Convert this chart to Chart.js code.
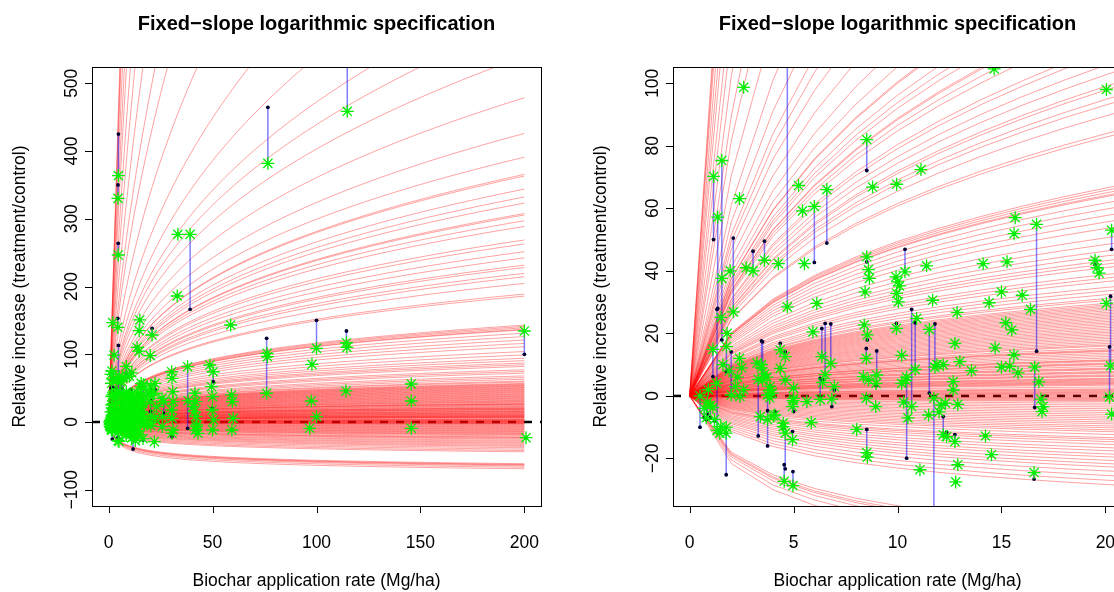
<!DOCTYPE html>
<html>
<head>
<meta charset="utf-8">
<script src="https://cdn.jsdelivr.net/npm/chart.js@4.4.1/dist/chart.umd.min.js"></script>
<style>
  html, body { margin: 0; padding: 0; background: #fff; overflow: hidden; }
  #wrap { position: relative; width: 1114px; height: 592px; overflow: hidden; background: #fff; }
  canvas { position: absolute; top: 0; }
  #left { left: 0; }
  #right { left: 581px; }
</style>
</head>
<body>
<div id="wrap">
  <canvas id="left" width="581" height="592"></canvas>
  <canvas id="right" width="581" height="592"></canvas>
</div>
<script>
// study-level exponents b of  increase = 100 * ((1 + rate)^b - 1)
const curveSlopes = [
  0.99, 0.97, 0.946, 0.90, 0.852, 0.81, 0.75, 0.70, 0.64, 0.581,
  0.542, 0.485, 0.433, 0.402, 0.378, 0.365, 0.35, 0.331, 0.313, 0.300,
  0.290, 0.289, 0.281, 0.276, 0.272, 0.265, 0.264, 0.260, 0.256, 0.246,
  0.243, 0.237, 0.232, 0.226, 0.224, 0.219, 0.216, 0.210, 0.200, 0.198,
  0.1674, 0.1659, 0.1643, 0.1627, 0.1619, 0.1579, 0.1538, 0.1495, 0.1452, 0.1408,
  0.1344, 0.1297, 0.125, 0.1215, 0.118, 0.1155, 0.1129, 0.1077, 0.105, 0.1023,
  0.0978, 0.095, 0.0921, 0.089, 0.0874, 0.0851, 0.0838, 0.0826, 0.0814, 0.0802,
  0.079, 0.0777, 0.0765, 0.0752, 0.0739, 0.0727, 0.0714, 0.0701, 0.0688, 0.0675,
  0.0661, 0.0648, 0.0634, 0.062, 0.0607, 0.0594, 0.058, 0.0566, 0.0552, 0.0538,
  0.0523, 0.0509, 0.0495, 0.0485, 0.0466, 0.0451, 0.0443, 0.0436, 0.0421, 0.0406,
  0.039, 0.0375, 0.0359, 0.0352, 0.0344, 0.0328, 0.032, 0.0312, 0.0296, 0.028,
  0.0272, 0.0264, 0.0247, 0.0238, 0.023, 0.0214, 0.0205, 0.0197, 0.018, 0.0172,
  0.0163, 0.0154, 0.0145, 0.0137, 0.0128, 0.012, 0.011, 0.0092, 0.0074, 0.0065,
  0.0056, 0.0046, 0.0037, 0.0028, 0.0019, 0.001, 0, -0.001, -0.0019, -0.0028,
  -0.0038, -0.0048, -0.0058, -0.0077, -0.0097, -0.0117, -0.0137, -0.0157, -0.0178, -0.0199,
  -0.022, -0.0241, -0.0263, -0.0285, -0.0306, -0.033, -0.0351, -0.0375, -0.0397, -0.043,
  -0.0469, -0.049, -0.0517, -0.055, -0.0593, -0.063, -0.0673, -0.071, -0.0755, -0.08,
  -0.0842, -0.09, -0.0963, -0.103, -0.1093, -0.1803, -0.1861, -0.19, -0.1969, -0.2079,
  -0.2212
];

// observations: application rate (Mg/ha), observed and fitted relative increase
const rate = [
  4.7, 4.5, 4.6, 4.4, 2.0, 15.0, 14.7, 13.7, 20.9, 33.3,
  39.2, 33.0, 58.7, 76.6, 76.0, 76.2, 76.4, 100.0, 97.8, 97.5,
  100.0, 96.7, 114.4, 114.6, 114.8, 114.2, 145.6, 145.6, 145.6, 200,
  200.8, 30.3, 30.5, 30.8, 31.1, 30.3, 30.6, 31.0, 30.5, 38.0,
  38.2, 41.5, 42.0, 41.2, 42.0, 42.5, 41.8, 43.0, 48.7, 50.3,
  49.5, 50.0, 49.8, 50.5, 50.0, 59.1, 59.5, 59.9, 59.3, 22.3,
  22.0, 23.1, 22.3, 22.0, 25.7, 26.5, 26.0, 25.8, 40.6, 42.2,
  1.15, 1.35, 1.55, 2.1, 2.6, 1.55, 1.95, 2.4, 2.72, 3.05,
  3.6, 4.27, 5.24, 5.43, 6.0, 6.6, 5.52, 8.52, 8.8, 9.96,
  4.7, 8.52, 8.6, 8.65, 9.93, 10.0, 14.65, 20.05, 11.13, 15.66,
  15.61, 16.69, 10.36, 11.4, 14.12, 15.27, 19.5, 19.6, 19.7, 20.3,
  10.1, 1.32, 1.51, 1.12, 1.77, 2.0, 1.76, 0.5, 0.7, 0.85,
  1.0, 1.12, 1.5, 1.45, 1.75, 3.51, 3.3, 3.24, 3.45, 3.6,
  3.72, 3.4, 3.75, 4.03, 3.75, 3.88, 3.85, 4.36, 4.6, 4.36,
  4.6, 5.0, 4.95, 4.55, 4.97, 4.95, 4.5, 4.6, 4.5, 5.0,
  5.64, 5.85, 6.28, 6.96, 6.84, 5.93, 6.12, 6.36, 6.52, 6.79,
  6.4, 8.04, 8.52, 8.55, 8.44, 8.4, 8.55, 8.5, 9.0, 8.6,
  8.36, 8.97, 8.5, 8.95, 9.96, 10.04, 9.95, 10.2, 10.68, 10.92,
  10.85, 10.2, 10.4, 10.3, 10.5, 10.44, 11.08, 11.53, 11.5, 11.75,
  11.8, 11.69, 12.76, 13.0, 13.56, 12.2, 11.9, 12.68, 12.68, 12.1,
  12.3, 12.9, 12.0, 12.2, 12.36, 12.76, 12.9, 12.8, 12.87, 14.41,
  15.0, 16.0, 16.4, 15.21, 15.5, 14.7, 15.6, 15.4, 15.0, 15.8,
  14.23, 14.52, 16.6, 16.8, 16.9, 17.0, 16.95, 16.57, 20.05, 20.25,
  20.2, 20.3, 2.42, 0.8, 1.2, 3.46, 3.86, 3.97, 4.1, 4.98,
  2.3, 2.2, 1.9, 1.6, 1.3, 0.9, 2.6, 2.5, 1.8, 2.4
];
const observed = [
  363.6, 330, 246.5, 139.8, 146.6, 150.6, 134.8, 110, 128.4, 277,
  277, 186, 143.2, 381.8, 42.4, 101.4, 96.4, 108.7, 85.1, 31,
  7.8, -9.3, 117, 110.2, 458.6, 45.8, 56.1, 31, -9.3, 134.3,
  -23.2, 74.2, 64.5, 44.7, 30, 17.7, 5.4, -11.8, -16.7, 81.6,
  31.4, 42.4, 30, 15.2, 7.8, -4.4, -11.8, -16.7, 84.1, 74.2,
  52.1, 37.3, 17.7, 3, -11.8, 39.9, 30, 5.4, -11.8, 57.1,
  42.4, 22.6, 5.4, -29, 35, 30, 7.8, -6.9, 22.6, -6.9,
  70.2, 57.2, 75.3, 26.9, 98.7, 37.6, 40, 63.1, 41, 40,
  43.4, 42.3, 67.3, 59.2, 60.6, 66, 42.3, 82, 66.8, 67.7,
  28.5, 44.5, 40.4, 37.6, 38.1, 36.5, 104.6, 98, 72.4, 57,
  51.9, 54.9, 39.7, 41.6, 42.3, 42.9, 43.4, 41, 39.3, 53,
  35.2, -11, 25.1, 14.9, 15.8, 0.3, -10, 0, -4, -2,
  -3, -3.7, -9.8, -11.9, -11.9, 5, 5.3, 10.5, 9, 7,
  6, -6.6, -7.6, -6.4, 0.3, 1.9, -0.6, 14.7, 12.6, 8.8,
  5.1, 2.5, -3.4, -27.3, -28.7, -14, -9.8, -11.9, -8.7, -0.8,
  -1.8, -8.5, -1.1, 3, -1, 20.5, 29.6, 12.6, 6.8, 10.4,
  4.3, -10.7, -18.1, -19.6, 33.3, 22.7, 19.5, 12, 6.7, 5.1,
  6.2, 4, -0.7, -3.4, 32.8, 30.1, 21.6, 4, -3.4, 24.8,
  8.5, 13, 5, -2, -7, 6, -23.6, 21.3, -6.1, -0.7,
  9.2, 30.6, 16.8, 11, 8.1, 10, 10, 4.6, 1.9, -2.9,
  -2.3, -2.7, -5.1, -12.4, -13, -14.6, -22, -27.5, 26.7, 29.8,
  33.3, 32.2, 27.7, 23.4, 21.1, 15.4, 13.1, 9.5, 9.2, 7.4,
  -12.8, -18.8, 9.2, 4.5, -1, -3.4, -5, -24.5, 29.6, 9.6,
  -0.4, -5.8, -0.2, -7, -7.5, 10, 3, 0.9, -6.1, -1.5,
  6, 3, 8, 10, 4, 2, 2, 9, 20, 12
];
const fitted = [
  425, 350, 263.7, 153, 146.6, 150.6, 134.8, 110, 138.3, 277,
  166.3, 186, 143.2, 464.5, 123.5, 101.4, 96.4, 150, 85.1, 31,
  7.8, -9.3, 134.3, 110.2, 600, 45.8, 56.1, 31, -9.3, 99.9,
  -23.2, 74.2, 64.5, 44.7, 30, 17.7, 5.4, -11.8, -21.7, -9.3,
  31.4, 42.4, 30, 15.2, 7.8, -4.4, -11.8, -16.7, 84.1, 59.5,
  52.1, 37.3, 20.2, 3, -11.8, 39.9, 30, 5.4, -11.8, 48,
  42.4, 22.6, 5.4, -29, 35, 12.8, 7.8, -6.9, 22.6, -6.9,
  50, 28, 17.9, 50.5, 98.7, 37.6, 40, 63.1, 41, 46.3,
  49.5, 42.3, 67.3, 59.2, 42.7, 48.9, 42.3, 72.1, 66.8, 67.7,
  113, 42.9, 40.4, 37.6, 38.1, 36.5, 104.6, 98, 72.4, 57,
  51.9, 14.3, 46.9, 41.6, 42.3, 42.9, 42, 41, 39.3, 46.9,
  35.2, 27.7, 25.1, 6.2, 7.8, 14.1, -25.2, -10, -6.9, -5.8,
  -6.9, -3.7, -9.8, -11.9, -11.9, 17.3, -12.8, 10.5, 9, 7,
  6, -6.6, -4.7, -6.4, -16, 3.2, -0.6, 16.8, 14.1, 8.8,
  5.1, 2.5, -3.4, -22, -24.2, -11.4, -10.3, -23.3, -8.7, -5,
  -1.8, -8.5, 5.6, 1.9, -3.4, 20.5, 29.6, 21.6, 23.2, 23,
  5.1, -10.7, -10.7, -19.6, 33.3, 22.7, 17.9, 15.2, 14.4, 5.1,
  6.2, 3.3, -0.7, -3.4, 32.8, 30.1, 23.2, 4, 27.7, 24.8,
  23.4, 13, 5, -2, -7, -19.9, -23.6, 0.9, -6.1, -40,
  23, 30.6, 16.8, 11, 8.1, 10, 10, 4.6, 1.9, -2.9,
  -2.3, -2.7, -5.1, -6.6, -11.6, -12.4, -22, -27.5, 26.7, 29.8,
  33.3, 32.2, 27.7, 23.4, 21.1, 15.4, 13.1, 9.5, 9.2, 7.4,
  -12.8, -18.8, -3.7, 4.5, -1, -3.4, -5, -26.6, 29.6, 31.9,
  15.7, -5.8, -0.2, -7.5, -8, 17.6, 3, 0.9, -5, -1.5,
  6, 3, 8, 10, 4, 2, 2, 9, 20, 12
];

const leftXTicks = [0, 50, 100, 150, 200];
const leftYTicks = [-100, 0, 100, 200, 300, 400, 500];
const rightXTicks = [0, 5, 10, 15, 20];
const rightYTicks = [-20, 0, 20, 40, 60, 80, 100];

const titleText = 'Fixed\u2212slope logarithmic specification';
const xTitle = 'Biochar application rate (Mg/ha)';
const yTitle = 'Relative increase (treatment/control)';

function logSpec(b, x) {
  return 100 * (Math.pow(1 + x, b) - 1);
}
// curve() style evaluation grid, 0..200 Mg/ha in 101 steps
const curveX = Array.from({ length: 101 }, (_, i) => i * 2);

function fmt(v) {
  return v < 0 ? '\u2212' + Math.abs(v) : String(v);
}

const frame = {
  id: 'frame',
  afterDraw(chart, args, opts) {
    const { ctx, chartArea: a } = chart;
    const xs = chart.scales.x, ys = chart.scales.y;
    ctx.save();
    ctx.strokeStyle = '#000';
    ctx.lineWidth = 1;
    ctx.strokeRect(Math.round(a.left) + 0.5, Math.round(a.top) + 0.5,
      Math.round(a.right - a.left), Math.round(a.bottom - a.top));
    ctx.beginPath();
    opts.xTicks.forEach(v => {
      const px = Math.round(xs.getPixelForValue(v)) + 0.5;
      ctx.moveTo(px, a.bottom);
      ctx.lineTo(px, a.bottom + 7);
    });
    opts.yTicks.forEach(v => {
      const py = Math.round(ys.getPixelForValue(v)) + 0.5;
      ctx.moveTo(a.left, py);
      ctx.lineTo(a.left - 7, py);
    });
    ctx.stroke();

    ctx.fillStyle = '#000';
    ctx.textAlign = 'center';
    ctx.textBaseline = 'alphabetic';
    ctx.font = '17.5px "Liberation Sans", Arial, sans-serif';
    opts.xTicks.forEach(v => ctx.fillText(fmt(v), xs.getPixelForValue(v), 548));
    ctx.fillText(xTitle, (a.left + a.right) / 2, 586);
    opts.yTicks.forEach(v => {
      ctx.save();
      ctx.translate(77, ys.getPixelForValue(v));
      ctx.rotate(-Math.PI / 2);
      ctx.fillText(fmt(v), 0, 0);
      ctx.restore();
    });
    ctx.save();
    ctx.translate(25, (a.top + a.bottom) / 2);
    ctx.rotate(-Math.PI / 2);
    ctx.fillText(yTitle, 0, 0);
    ctx.restore();

    ctx.font = 'bold 20px "Liberation Sans", Arial, sans-serif';
    ctx.fillText(titleText, (a.left + a.right) / 2, 30);
    ctx.restore();
  }
};

function makeChart(id, xMin, xMax, yMin, yMax, xTicks, yTicks) {
  const curves = curveSlopes.map(b => ({
    data: curveX.map(x => ({ x: x, y: logSpec(b, x) })),
    showLine: true,
    borderColor: 'rgba(255,0,0,0.37)',
    borderWidth: 1,
    pointRadius: 0,
    clip: 0,
    order: 3
  }));

  const segs = [];
  rate.forEach((x, i) => {
    segs.push({ x: x, y: observed[i] }, { x: x, y: fitted[i] }, { x: x, y: null });
  });

  const datasets = [
    {
      data: rate.map((x, i) => ({ x: x, y: observed[i] })),
      pointStyle: 'star',
      pointRadius: 6.5,
      pointBorderColor: '#00f000',
      pointBorderWidth: 1.3,
      clip: 0,
      order: 0
    },
    {
      data: rate.map((x, i) => ({ x: x, y: fitted[i] })),
      pointStyle: 'circle',
      pointRadius: 1.9,
      pointBackgroundColor: '#000033',
      pointBorderWidth: 0,
      clip: 0,
      order: 1
    },
    {
      data: segs,
      showLine: true,
      spanGaps: false,
      borderColor: 'rgba(0,0,255,0.5)',
      borderWidth: 1.5,
      pointRadius: 0,
      clip: 0,
      order: 2
    },
    ...curves,
    {
      data: [{ x: xMin, y: 0 }, { x: xMax, y: 0 }],
      showLine: true,
      borderColor: '#000',
      borderWidth: 2.5,
      borderDash: [8, 8],
      pointRadius: 0,
      clip: 0,
      order: 4
    }
  ];

  return new Chart(document.getElementById(id), {
    type: 'scatter',
    data: { datasets: datasets },
    options: {
      responsive: false,
      animation: false,
      events: [],
      layout: { padding: { left: 92, top: 67, right: 40, bottom: 86 } },
      scales: {
        x: { type: 'linear', min: xMin, max: xMax, display: false },
        y: { type: 'linear', min: yMin, max: yMax, display: false }
      },
      plugins: {
        legend: { display: false },
        tooltip: { enabled: false },
        frame: { xTicks: xTicks, yTicks: yTicks }
      }
    },
    plugins: [frame]
  });
}

makeChart('left', -8, 208, -124, 524, leftXTicks, leftYTicks);
makeChart('right', -0.8, 20.8, -35.2, 105.2, rightXTicks, rightYTicks);
</script>
</body>
</html>
